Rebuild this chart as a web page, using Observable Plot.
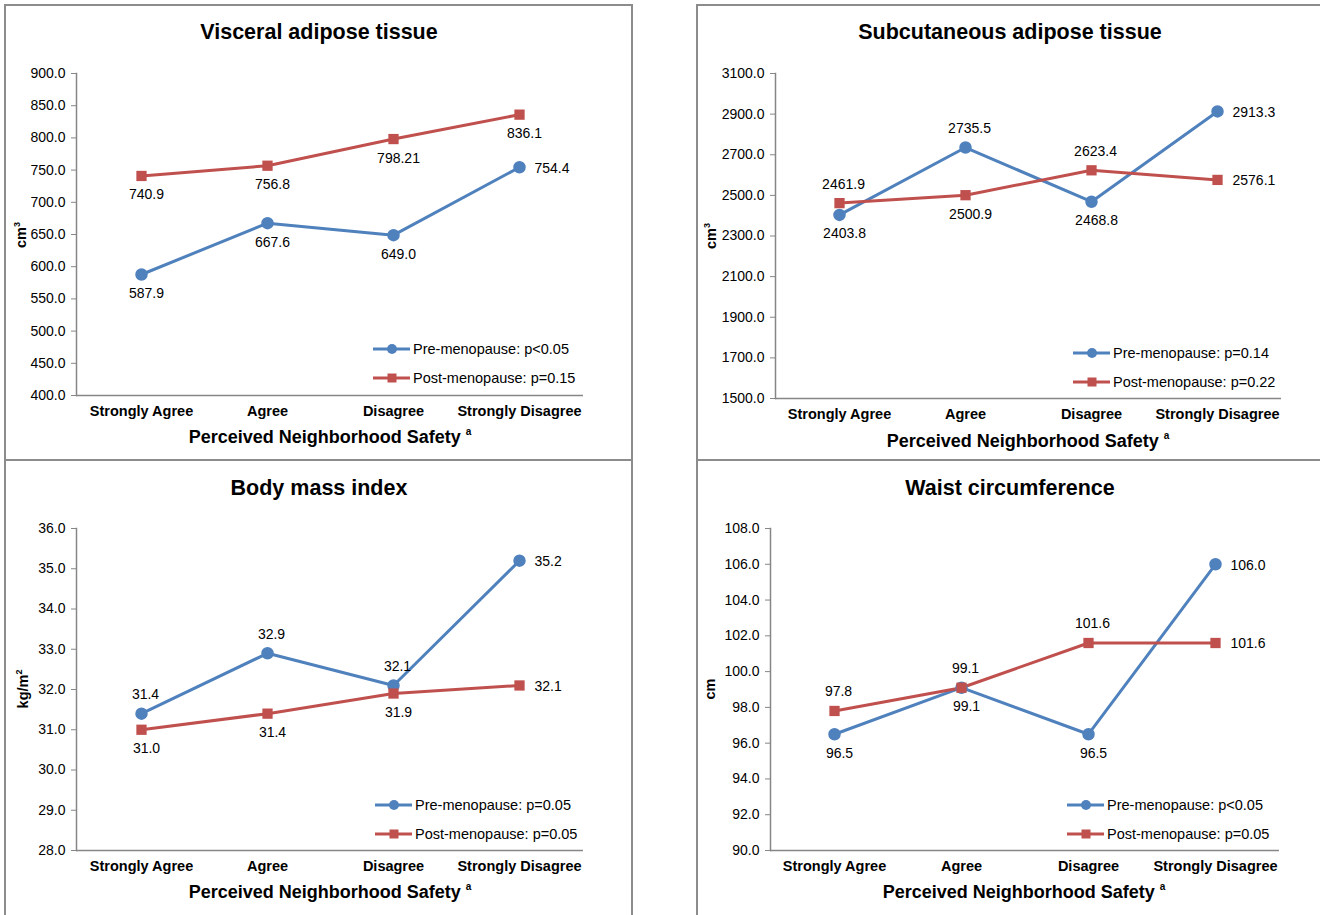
<!DOCTYPE html>
<html><head><meta charset="utf-8">
<script src="https://cdn.jsdelivr.net/npm/d3@7"></script>
<script src="https://cdn.jsdelivr.net/npm/@observablehq/plot@0.6"></script>
<style>
body{margin:0;background:#fff;font-family:"Liberation Sans",Arial,sans-serif;color:#000;}
#page{position:relative;width:1320px;height:915px;overflow:hidden;background:#fff;}
.panel{position:absolute;border:2px solid #8c8c8c;box-sizing:border-box;}
.abs{position:absolute;white-space:nowrap;}
.plot{position:absolute;}
.title{font-weight:bold;font-size:21.5px;transform:translate(-50%,-50%);}
.xtitle{font-weight:bold;font-size:18px;transform:translate(-50%,-50%);}
.xtitle sup{font-size:10px;vertical-align:8px;margin-left:5px;}
.ytitle{font-weight:bold;font-size:14.5px;transform:translate(-50%,-50%) rotate(-90deg);}
.ytitle sup{font-size:9px;vertical-align:6px;}
.leg{font-size:14.5px;display:flex;align-items:center;transform:translateY(-50%);}
.leg svg{display:block;margin-right:3px;}
</style>
</head><body>
<div id="page"></div>
<script>
// ---------- data ----------
const categories = ["Strongly Agree", "Agree", "Disagree", "Strongly Disagree"];
const seriesNames = ["Pre-menopause", "Post-menopause"];

const vatPre  = [587.9, 667.6, 649.0, 754.4];
const vatPost = [740.9, 756.8, 798.21, 836.1];
const vatP    = ["p<0.05", "p=0.15"];
const vatTicks = [400, 450, 500, 550, 600, 650, 700, 750, 800, 850, 900];

const satPre  = [2403.8, 2735.5, 2468.8, 2913.3];
const satPost = [2461.9, 2500.9, 2623.4, 2576.1];
const satP    = ["p=0.14", "p=0.22"];
const satTicks = [1500, 1700, 1900, 2100, 2300, 2500, 2700, 2900, 3100];

const bmiPre  = [31.4, 32.9, 32.1, 35.2];
const bmiPost = [31.0, 31.4, 31.9, 32.1];
const bmiP    = ["p=0.05", "p=0.05"];
const bmiTicks = [28, 29, 30, 31, 32, 33, 34, 35, 36];

const wcPre  = [96.5, 99.1, 96.5, 106.0];
const wcPost = [97.8, 99.1, 101.6, 101.6];
const wcP    = ["p<0.05", "p=0.05"];
const wcTicks = [90, 92, 94, 96, 98, 100, 102, 104, 106, 108];

const titles = ["Visceral adipose tissue", "Subcutaneous adipose tissue", "Body mass index", "Waist circumference"];
const yUnits = ["cm<sup>3</sup>", "cm<sup>3</sup>", "kg/m<sup>2</sup>", "cm"];
const xTitle = "Perceived Neighborhood Safety";

// ---------- layout (label placement & geometry) ----------
const BLUE = "#4F81BD", RED = "#C0504D", AXIS = "#868686";
const labelPos = [
  [["below","below","below","right"], ["below","below","below","below"]],
  [["below","above","below","right"], ["above","below","above","right"]],
  [["above","above","above","right"], ["below","below","below","right"]],
  [["below","below","below","right"], ["above","above","above","right"]]
];
const panels = [
  {pre: vatPre, post: vatPost, p: vatP, ticks: vatTicks, left: 5, top: 5, w: 627, h: 455, ml: 71, mr: 49, mt: 68, mb: 65,
   titleXY: [319, 32], xtXY: [330, 437], ytXY: [20, 235], legXY: [373, 349, 378]},
  {pre: satPre, post: satPost, p: satP, ticks: satTicks, left: 697, top: 5, w: 623, h: 455, ml: 78, mr: 39, mt: 68, mb: 62,
   titleXY: [1010, 32], xtXY: [1028, 441], ytXY: [710, 236], legXY: [1073, 353, 382]},
  {pre: bmiPre, post: bmiPost, p: bmiP, ticks: bmiTicks, left: 5, top: 460, w: 627, h: 455, ml: 71, mr: 49, mt: 68, mb: 65,
   titleXY: [319, 488], xtXY: [330, 892], ytXY: [22, 689], legXY: [375, 805, 834]},
  {pre: wcPre, post: wcPost, p: wcP, ticks: wcTicks, left: 697, top: 460, w: 623, h: 455, ml: 73, mr: 41, mt: 68, mb: 65,
   titleXY: [1010, 488], xtXY: [1024, 892], ytXY: [710, 689], legXY: [1067, 805, 834]}
];

const fmt = d => { const s = String(d); return s.includes(".") ? s : d.toFixed(1); };
const page = document.getElementById("page");

function addDiv(cls, x, y, html){
  const d = document.createElement("div");
  d.className = "abs " + cls;
  d.style.left = x + "px"; d.style.top = y + "px";
  d.innerHTML = html;
  page.appendChild(d);
  return d;
}

panels.forEach((P, k) => {
  const data = [];
  [P.pre, P.post].forEach((vals, si) => vals.forEach((v, i) =>
    data.push({cat: categories[i], value: v, series: seriesNames[si], pos: labelPos[k][si][i]})));
  const txt = (pos, opts) => Plot.text(data.filter(d => d.pos === pos),
    {x: "cat", y: "value", text: d => fmt(d.value), fontSize: 14, fill: "#000", ...opts});
  const plot = Plot.plot({
    width: P.w, height: P.h,
    marginLeft: P.ml, marginRight: P.mr, marginTop: P.mt, marginBottom: P.mb,
    style: {fontFamily: '"Liberation Sans", Arial, sans-serif', fontSize: "14px", color: "#000", background: "transparent", overflow: "visible"},
    x: {type: "point", domain: categories, padding: 0.5},
    y: {domain: [P.ticks[0], P.ticks[P.ticks.length - 1]]},
    color: {domain: seriesNames, range: [BLUE, RED]},
    marks: [
      Plot.ruleY([P.ticks[0]], {stroke: AXIS, strokeWidth: 1.5}),
      Plot.frame({anchor: "left", stroke: AXIS, strokeWidth: 1.5}),
      Plot.axisY({ticks: P.ticks, tickFormat: d => d.toFixed(1), tickSize: 5, tickPadding: 6, stroke: AXIS, fill: "#000", fontSize: 14, label: null}),
      Plot.axisX({tickSize: 0, tickPadding: 10, fontWeight: "bold", fontSize: 14.5, fill: "#000", label: null}),
      Plot.line(data, {x: "cat", y: "value", z: "series", stroke: "series", strokeWidth: 3, strokeLinejoin: "round"}),
      Plot.dot(data.filter(d => d.series === seriesNames[0]), {x: "cat", y: "value", r: 5.5, fill: BLUE, stroke: BLUE, symbol: "circle"}),
      Plot.dot(data.filter(d => d.series === seriesNames[1]), {x: "cat", y: "value", r: 5.8, fill: RED, symbol: "square"}),
      txt("below", {dy: 19, dx: 5}),
      txt("above", {dy: -19, dx: 4}),
      txt("right", {dx: 15, dy: 1, textAnchor: "start"})
    ]
  });
  plot.classList.add("plot");
  plot.style.position = "absolute";
  plot.style.left = P.left + "px";
  plot.style.top = P.top + "px";
  page.appendChild(plot);

  addDiv("title", P.titleXY[0], P.titleXY[1], titles[k]);
  addDiv("xtitle", P.xtXY[0], P.xtXY[1], xTitle + "<sup>a</sup>");
  addDiv("ytitle", P.ytXY[0], P.ytXY[1], yUnits[k]);

  [[BLUE, "circle"], [RED, "square"]].forEach(([c, sym], si) => {
    const mk = sym === "circle"
      ? `<circle cx="19" cy="6" r="5" fill="${c}"/>`
      : `<rect x="14.5" y="1.5" width="9" height="9" fill="${c}"/>`;
    addDiv("leg", P.legXY[0], P.legXY[1 + si],
      `<svg width="37" height="12"><line x1="0" y1="6" x2="37" y2="6" stroke="${c}" stroke-width="3"/>${mk}</svg><span>${seriesNames[si]}: ${P.p[si]}</span>`);
  });
});

// panel borders on top
[[4, 4, 629, 457], [696, 4, 700, 457], [4, 459, 629, 460], [696, 459, 700, 460]].forEach(([x, y, w, h]) => {
  const d = document.createElement("div");
  d.className = "panel";
  Object.assign(d.style, {left: x + "px", top: y + "px", width: w + "px", height: h + "px"});
  page.appendChild(d);
});
</script>
</body></html>
